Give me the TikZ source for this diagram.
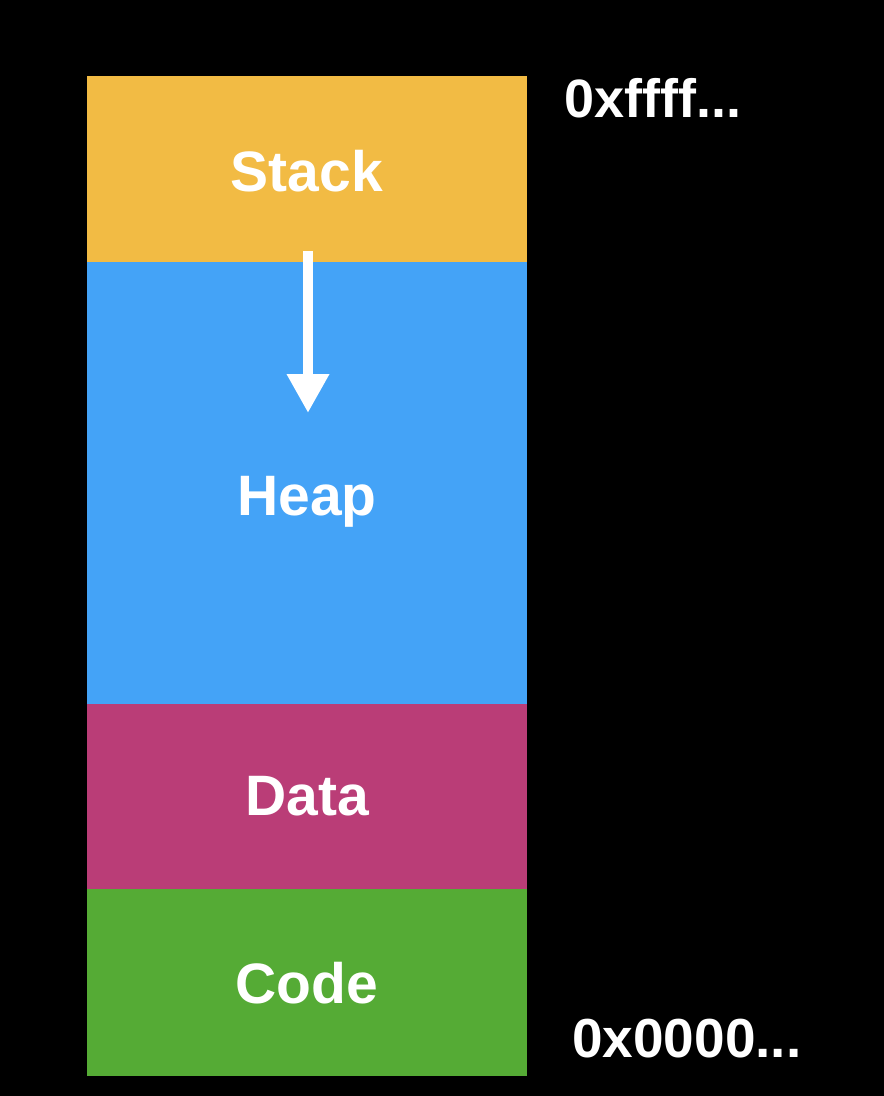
\documentclass[tikz,border=0pt]{standalone}
\usepackage{fontspec}
\setmainfont{Liberation Sans}
\usetikzlibrary{arrows.meta}
\definecolor{stackc}{HTML}{F2BB44}
\definecolor{heapc}{HTML}{44A3F7}
\definecolor{datac}{HTML}{BA3D77}
\definecolor{codec}{HTML}{55AB35}
\begin{document}
\begin{tikzpicture}[x=1pt,y=-1pt,
  segment/.style={draw=none,inner sep=0pt,minimum width=440pt,anchor=north west},
  seglabel/.style={text=white,font=\bfseries\fontsize{57}{57}\selectfont,inner sep=0pt,anchor=base},
  addr/.style={text=white,inner sep=0pt,anchor=base west}]
  \fill[black] (0,0) rectangle (884,1096);
  \useasboundingbox (0,0) rectangle (884,1096);
  % memory segments
  \node[segment,fill=stackc,minimum height=186pt] (stack) at (87,76) {};
  \node[segment,fill=heapc,minimum height=442pt] (heap) at (87,262) {};
  \node[segment,fill=datac,minimum height=185pt] (data) at (87,704) {};
  \node[segment,fill=codec,minimum height=187pt] (code) at (87,889) {};
  % labels
  \node[seglabel] (stackl) at (307,191) {Stack};
  \node[seglabel] (heapl) at (307,515) {Heap};
  \node[seglabel] (datal) at (307,815) {Data};
  \node[seglabel] (codel) at (307,1003) {Code};
  % addresses
  \node[addr,font=\bfseries\fontsize{54}{54}\selectfont] (hi) at (564,117) {0xffff...};
  \node[addr,font=\bfseries\fontsize{55}{55}\selectfont] (lo) at (572,1057) {0x0000...};
  % growth direction
  \coordinate (arrs) at (308,251);
  \coordinate (arre) at (308,413);
  \draw[white,line width=10pt,-{Triangle[width=40pt,length=39pt]}] (arrs) -- (arre);
\end{tikzpicture}
\end{document}
